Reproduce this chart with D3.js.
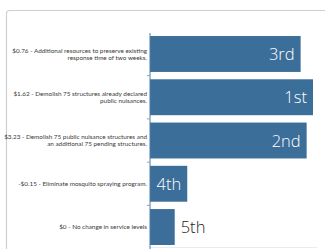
<!DOCTYPE html>
<html><head><meta charset="utf-8">
<script src="https://cdn.jsdelivr.net/npm/d3@7"></script>
<style>
html,body{margin:0;padding:0;background:#fff;}
svg{display:block;}
</style></head>
<body>
<svg id="chart" width="325" height="249"></svg>
<script>
const categories = [
  ["$0.76 - Additional resources to preserve existing", "response time of two weeks."],
  ["$1.62 - Demolish 75 structures already declared", "public nuisances."],
  ["$3.23 - Demolish 75 public nuisance structures and", "an additional 75 pending structures."],
  ["-$0.15 - Eliminate mosquito spraying program."],
  ["$0 - No change in service levels"]
];
const scores = [90.2, 97.6, 93.8, 22.3, 14.8];
const ranks = ["3rd", "1st", "2nd", "4th", "5th"];

const svg = d3.select("#chart");
const barColor = "#3b6e99";

// card
svg.append("rect").attr("x", 6.5).attr("y", 10.5).attr("width", 340).attr("height", 260)
  .attr("rx", 3).attr("fill", "#fff").attr("stroke", "#cfcfcf").attr("stroke-width", 1.2);

const idx = d3.range(categories.length);
const y = d3.scaleBand().domain(idx).range([33, 248]).paddingInner(0.17).paddingOuter(0.07);
const x = d3.scaleLinear().domain([0, 100]).range([150, 317]);

// bottom light line
svg.append("line").attr("x1", x(0)).attr("x2", x(100)).attr("y1", 247.5).attr("y2", 247.5)
  .attr("stroke", "#e3edf5").attr("stroke-width", 1);

// bars
svg.selectAll("rect.bar").data(idx).join("rect").attr("class", "bar")
  .attr("x", x(0)).attr("y", d => y(d)).attr("width", d => x(scores[d]) - x(0))
  .attr("height", y.bandwidth()).attr("fill", barColor);

// axis line + ticks between bands
const g = svg.append("g");
g.append("line").attr("x1", 150).attr("x2", 150).attr("y1", 33).attr("y2", 249)
  .attr("stroke", "#4d7ca5").attr("stroke-width", 1);
const gap = y.step() * y.paddingInner() / 2;
g.selectAll("line.tick").data(idx.slice(0, -1)).join("line").attr("class", "tick")
  .attr("x1", 147).attr("x2", 150)
  .attr("y1", d => y(d) + y.bandwidth() + gap).attr("y2", d => y(d) + y.bandwidth() + gap)
  .attr("stroke", "#8aa6bf").attr("stroke-width", 1);

// category labels
const fs = 6.35, lh = 6.6;
const labels = svg.selectAll("text.cat").data(idx).join("text").attr("class", "cat")
  .attr("text-anchor", "end")
  .attr("font-family", "Lato, sans-serif")
  .attr("font-size", fs).attr("fill", "#3a3a3a");
labels.each(function(d) {
  const lines = categories[d];
  const cy = y(d) + y.bandwidth() / 2;
  const t = d3.select(this);
  lines.forEach((ln, i) => {
    t.append("tspan").attr("x", 147)
      .attr("y", cy + (i - (lines.length - 1) / 2) * lh + fs * 0.35)
      .text(ln);
  });
});

// rank labels
svg.selectAll("text.rank").data(idx).join("text").attr("class", "rank")
  .attr("font-family", "'Open Sans', sans-serif")
  .attr("font-weight", 300)
  .attr("font-size", 16.5)
  .attr("y", d => y(d) + y.bandwidth() / 2 + 6)
  .each(function(d) {
    const t = d3.select(this).text(ranks[d]);
    const w = this.getComputedTextLength();
    const end = x(scores[d]);
    if (end - x(0) > w + 10) {
      t.attr("x", end - 6).attr("text-anchor", "end").attr("fill", "#fff");
    } else {
      t.attr("x", end + 6).attr("text-anchor", "start").attr("fill", "#222");
    }
  });
</script>
</body></html>
